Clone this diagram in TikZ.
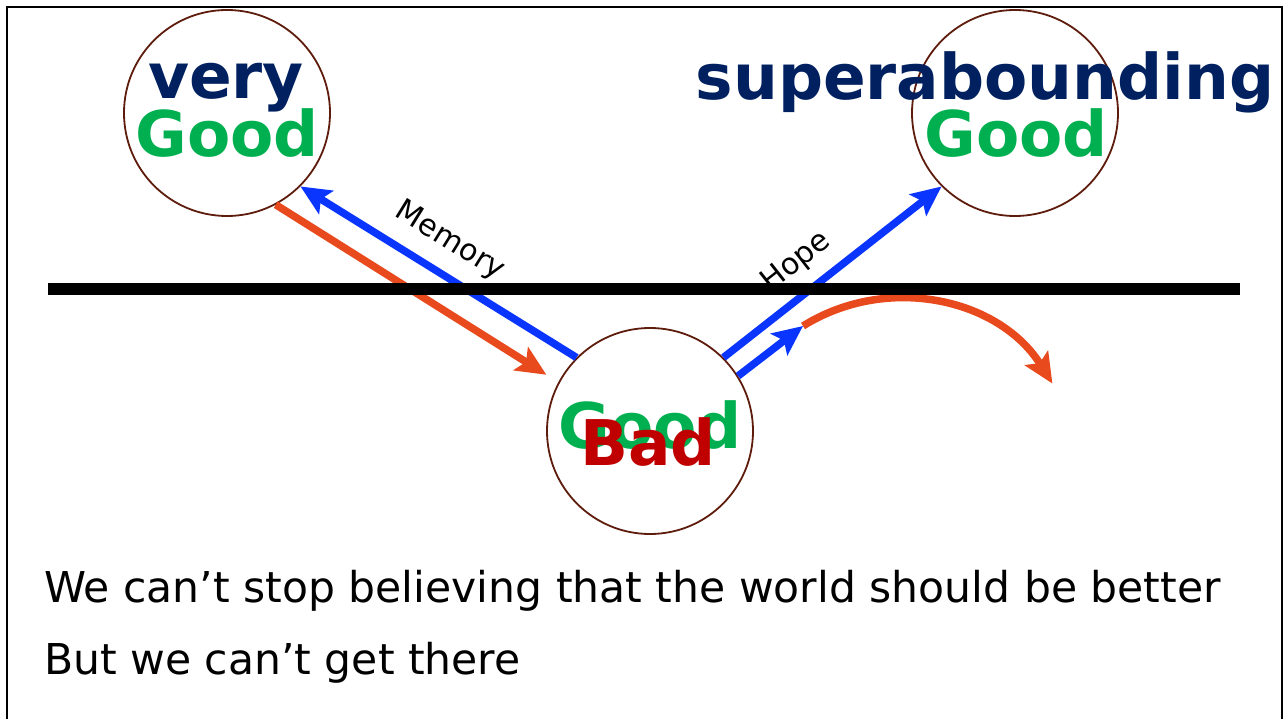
\documentclass[tikz,border=0pt]{standalone}
\usepackage{fontspec}
\setmainfont{DejaVu Sans}
\usetikzlibrary{positioning,arrows.meta}
\definecolor{navy}{HTML}{002060}
\definecolor{leaf}{HTML}{00B050}
\definecolor{blood}{HTML}{C00000}
\definecolor{hopeblue}{HTML}{0A35FF}
\definecolor{fall}{HTML}{E84A1E}
\definecolor{rim}{HTML}{5E1C0C}
\newcommand{\wordsize}{\fontsize{63pt}{70pt}\selectfont}
\tikzset{
  ring/.style={circle, draw=rim, line width=1.8pt, minimum size=206pt, inner sep=0pt},
  word/.style={font=\wordsize\bfseries, inner sep=0pt, anchor=base},
  arr/.style={-{Stealth[length=30pt,width=27pt,inset=6pt]}, line width=7.5pt, color=hopeblue},
  oarr/.style={-{Stealth[length=30pt,width=27pt,inset=6pt]}, line width=7.5pt, color=fall},
  lab/.style={font=\fontsize{30pt}{34pt}\selectfont, text=black},
  body/.style={font=\fontsize{42.5pt}{50pt}\selectfont, anchor=base west, inner sep=0pt},
}
\begin{document}
\begin{tikzpicture}[x=1pt, y=-1pt]
  \useasboundingbox (0,0) rectangle (1286,719);
  \draw[line width=2pt] (7,740) -- (7,7) -- (1282,7) -- (1282,740);
  % the three goods
  \node[ring] (vg) at (227,113) {};
  \node[ring] (sg) at (1015,113) {};
  \node[ring] (low) at (650,431) {};
  \node[word, text=leaf] (vgood) at ([yshift=-44pt]vg.center) {Good};
  \node[word, text=navy] (very) at ([xshift=-1pt, yshift=14pt]vg.center) {very};
  \node[word, text=leaf] (sgood) at ([xshift=1pt, yshift=-44pt]sg.center) {Good};
  \node[word, text=navy] (super) at ([xshift=-30pt, yshift=13pt]sg.center) {superabounding};
  \node[word, text=leaf] (mgood) at ([yshift=-17pt]low.center) {Good};
  \node[word, text=blood] (bad) at ([xshift=-2pt, yshift=-34pt]low.center) {Bad};
  % arrows
  \draw[oarr, shorten >=14pt] (vg.-62) -- (low.152);
  \draw[arr] (low.135) -- node[lab, sloped, above=11pt, pos=0.52] (mem) {Memory} (vg.-45);
  \draw[arr] (low.45) -- node[lab, sloped, above=9pt, pos=0.42] (hope) {Hope} (sg.225);
  \coordinate (turn) at (803,326);
  \draw[arr] (low.32) -- (turn);
  \draw[oarr] (turn) arc[start angle=122, end angle=32, radius=181pt];
  \draw[line width=12pt] (48,289) -- (1240,289);
  % caption
  \node[body] (line1) at (44,602) {We can’t stop believing that the world should be better};
  \node[body] (line2) at (44,674) {But we can’t get there};
\end{tikzpicture}
\end{document}
